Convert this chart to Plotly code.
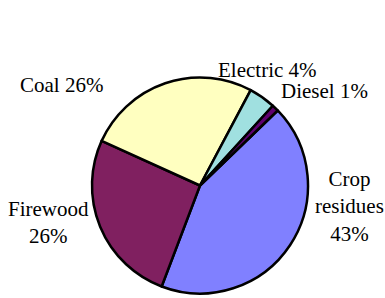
import plotly.graph_objects as go

labels = ["Crop residues", "Firewood", "Coal", "Electric", "Diesel"]
values = [43, 26, 26, 4, 1]
colors = ["#8080FF", "#802060", "#FFFFC0", "#A0E0E0", "#600070"]
label_text = ["Crop<br>residues<br>43%", "Firewood<br>26%", "Coal 26%", "Electric 4%", "Diesel 1%"]
# label centres in pixels (x, y from top)
label_pos = [(349, 206), (48, 222), (61, 85), (267, 70), (324, 91)]

W, H = 385, 298
fig = go.Figure(go.Pie(
    labels=labels, values=values, sort=False, direction="clockwise",
    rotation=46,
    marker=dict(colors=colors, line=dict(color="black", width=2.5)),
    textinfo="none", hoverinfo="label+percent", showlegend=False,
    domain=dict(x=[92 / W, 308 / W], y=[3 / H, 222 / H]),
))
for t, (px, py) in zip(label_text, label_pos):
    fig.add_annotation(text=t, x=px / W, y=1 - py / H, xref="paper", yref="paper",
                       xanchor="center", yanchor="middle", showarrow=False,
                       font=dict(family="Liberation Serif", size=21, color="black"))
fig.update_layout(width=W, height=H, margin=dict(l=0, r=0, t=0, b=0),
                  paper_bgcolor="white", plot_bgcolor="white")
fig.write_html("out.html", config={"displayModeBar": False},
               post_script="document.body.style.margin='0';")
